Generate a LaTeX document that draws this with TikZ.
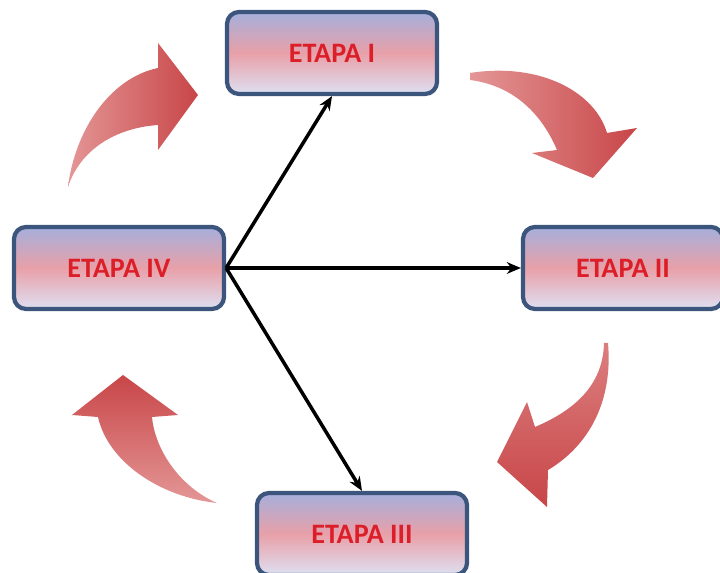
\documentclass[tikz,border=0pt]{standalone}
\usepackage{fontspec}
\setmainfont{Carlito}
\usetikzlibrary{arrows.meta}
\definecolor{boxtop}{RGB}{165,175,220}
\definecolor{boxmid}{RGB}{232,160,168}
\definecolor{boxbot}{RGB}{222,224,242}
\definecolor{boxline}{RGB}{60,85,125}
\definecolor{etxt}{RGB}{220,30,40}
\definecolor{arrdark}{RGB}{200,70,72}
\definecolor{arrlight}{RGB}{228,150,150}
\tikzset{
  etapa/.style={draw=boxline, line width=3.6pt, rounded corners=0.36cm,
    top color=boxtop, bottom color=boxbot, middle color=boxmid,
    minimum width=6.3cm, minimum height=2.46cm, inner sep=0pt,
    font=\fontsize{24}{28}\selectfont\bfseries, text=etxt},
  link/.style={line width=3pt, -{Stealth[length=12pt,width=10pt]}},
}
\begin{document}
\begin{tikzpicture}[x=0.03cm,y=-0.03cm]
\useasboundingbox (0,0) rectangle (720,573);
\clip (0,0) rectangle (720,573);
\fill[white] (0,0) rectangle (720,573);
% curved arrows
\shade[left color=arrlight, right color=arrdark]
  (68,187) .. controls (75,130) and (110,78) .. (158,68)
  -- (158,43) -- (198,95) -- (158,150) -- (158,125)
  .. controls (115,128) and (80,150) .. (68,187) -- cycle;
\shade[left color=arrlight, right color=arrdark]
  (470,73) .. controls (540,62) and (595,92) .. (607,133)
  -- (637,128) -- (593,178) -- (532,153) -- (557,150)
  .. controls (540,110) and (510,85) .. (470,80) -- cycle;
\shade[top color=arrlight!70!arrdark, bottom color=arrdark]
  (608,343) .. controls (613,400) and (590,445) .. (548,470)
  -- (547,507) -- (497,462) -- (527,402) -- (535,427)
  .. controls (575,410) and (603,385) .. (604,343) -- cycle;
\shade[top color=arrdark, bottom color=arrlight]
  (217,503) .. controls (180,487) and (155,450) .. (152,417)
  -- (178,415) -- (123,375) -- (72,415) -- (98,417)
  .. controls (108,462) and (160,497) .. (217,503) -- cycle;
% boxes
\node[etapa] (i)   at (332,53)  {ETAPA I};
\node[etapa] (iv)  at (119,268) {ETAPA IV};
\node[etapa, minimum width=6.0cm] (ii)  at (623,268) {ETAPA II};
\node[etapa] (iii) at (362,534) {ETAPA III};
% connectors
\draw[link] (iv.east) -- (i.south);
\draw[link] (iv.east) -- (ii.west);
\draw[link] (iv.east) -- (iii.north);
\end{tikzpicture}
\end{document}
